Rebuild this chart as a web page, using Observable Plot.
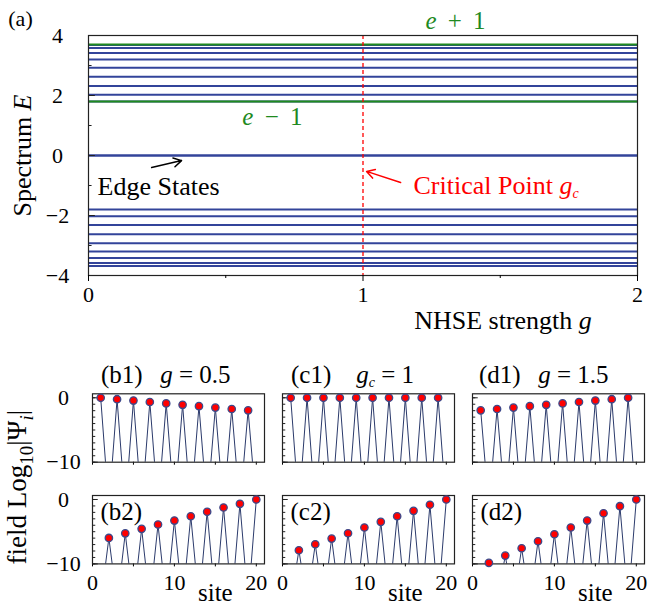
<!DOCTYPE html>
<html><head><meta charset="utf-8">
<script src="https://cdn.jsdelivr.net/npm/d3@7"></script>
<script src="https://cdn.jsdelivr.net/npm/@observablehq/plot@0.6"></script>
<style>
body{margin:0;background:#fff;}
#root{position:relative;width:652px;height:608px;overflow:hidden;font-family:"Liberation Serif",serif;}
#root svg{position:absolute;overflow:visible;background:transparent;}
#root svg, #root svg text, #root svg tspan{font-family:"Liberation Serif",serif !important;}
.lab{position:absolute;white-space:nowrap;font-family:"Liberation Serif",serif;color:#000;line-height:1;}
</style></head><body><div id="root"></div>
<script>
const FONT = "Liberation Serif";
const BLUE = "#33449a";
const GREEN = "#1f8a1f";

// ---- panel (a): spectrum E vs NHSE strength g ----
const bulkUpper = [3.684, 3.583, 3.419, 3.198, 2.929, 2.628, 2.314, 2.022, 1.800];
const bulkLower = [-1.800, -2.022, -2.314, -2.628, -2.929, -3.198, -3.419, -3.583, -3.684];
const edgeLevels = [0, 0];
const bandEdgeLevels = [3.70, 1.80];
const criticalG = [1];
const gTicks = [0, 1, 2];
const gMinorTicks = [0.5, 1.5];
const eTicks = [-4, -2, 0, 2, 4];
const eMinorTicks = [-3, -1, 1, 3];

// ---- panels (b)-(d): field Log10|Psi_i| vs site ----
const sites = [1,2,3,4,5,6,7,8,9,10,11,12,13,14,15,16,17,18,19,20];
const b1 = [0,-17,-0.22,-17,-0.43,-17,-0.65,-17,-0.87,-17,-1.09,-17,-1.30,-17,-1.52,-17,-1.74,-17,-1.95,-17];
const c1 = [0,-17,0,-17,0,-17,0,-17,0,-17,0,-17,0,-17,0,-17,0,-17,0,-17];
const d1 = [-1.95,-17,-1.74,-17,-1.52,-17,-1.30,-17,-1.09,-17,-0.87,-17,-0.65,-17,-0.43,-17,-0.22,-17,0,-17];
const b2 = [-16,-5.97,-16,-5.26,-16,-4.56,-16,-3.89,-16,-3.27,-16,-2.60,-16,-1.91,-16,-1.24,-16,-0.67,-16,0];
const c2 = [-16,-7.88,-16,-6.95,-16,-6.07,-16,-5.24,-16,-4.35,-16,-3.47,-16,-2.60,-16,-1.76,-16,-0.82,-16,0];
const d2 = [-16,-9.84,-16,-8.71,-16,-7.57,-16,-6.48,-16,-5.40,-16,-4.35,-16,-3.27,-16,-2.14,-16,-1.04,-16,0];
const siteTicks = [0, 5, 10, 15, 20];
const siteLabels = [0, 10, 20];
const fieldTicks = [-10, 0];
const fieldMinorTicks = [-10,-9,-8,-7,-6,-5,-4,-3,-2,-1,0];

const panelTitles = [
  ["(b1)\u2002\u2009*g* = 0.5", "(c1)\u2002\u2002*g*_{*c*} = 1", "(d1)\u2002\u2009*g* = 1.5"],
  ["(b2)", "(c2)", "(d2)"]
];
const panelData = [[b1, c1, d1], [b2, c2, d2]];

// rich text: *italic*, _{subscript}
function segs(s){
  const out=[]; let it=false, sub=false, buf="";
  const push=()=>{ if(buf) out.push({t:buf,it,sub}); buf=""; };
  for(let i=0;i<s.length;i++){
    const c=s[i];
    if(c==='*'){push(); it=!it; continue;}
    if(c==='_' && s[i+1]==='{'){push(); sub=true; i++; continue;}
    if(c==='}' && sub){push(); sub=false; continue;}
    buf+=c;
  }
  push(); return out;
}
function rich(svg){
  d3.select(svg).selectAll("text").each(function(){
    const t=this.textContent;
    if(!/[*]|_\{/.test(t)) return;
    const fs=parseFloat(getComputedStyle(this).fontSize)||20;
    const sel=d3.select(this); sel.text("");
    let wasSub=false;
    for(const s of segs(t)){
      const ts=sel.append("tspan").text(s.t);
      if(s.it) ts.attr("font-style","italic");
      if(s.sub){ ts.attr("font-size",fs*0.7).attr("dy",fs*0.22); wasSub=true; }
      else if(wasSub){ ts.attr("dy",-fs*0.22); wasSub=false; }
    }
  });
  return svg;
}

const root = document.getElementById("root");
function place(svg, left, top){ svg.style.left=left+"px"; svg.style.top=top+"px"; root.appendChild(rich(svg)); }

// ---- top plot ----
const topPlot = Plot.plot({
  width: 652, height: 340,
  marginLeft: 88, marginRight: 15, marginTop: 35, marginBottom: 65,
  x: {domain: [0, 2], axis: null}, y: {domain: [-4, 4], axis: null},
  style: {fontFamily: FONT, fontSize: "22px", overflow: "visible", background: "transparent"},
  marks: [
    Plot.ruleY(bulkUpper.concat(bulkLower, edgeLevels), {stroke: BLUE, strokeWidth: 2}),
    Plot.ruleY(bandEdgeLevels, {stroke: GREEN, strokeWidth: 2.2}),
    Plot.ruleX(criticalG, {stroke: "red", strokeWidth: 1.3, strokeDasharray: "4,3"}),
    Plot.frame({stroke: "#222", strokeWidth: 1.2}),
    Plot.ruleY(eTicks, {x1: 0, x2: 0.025, stroke: "#222"}),
    Plot.ruleY(eMinorTicks, {x1: 0, x2: 0.013, stroke: "#222"}),
    Plot.axisX({ticks: gTicks, tickSize: 6, tickPadding: 5, label: null, fontSize: 22, tickFormat: d3.format("d")}),
    Plot.axisX({ticks: gMinorTicks, tickSize: 3, tickFormat: () => "", label: null}),
    Plot.axisY({ticks: eTicks, tickSize: 0, tickPadding: 31, textAnchor: "middle", label: null, fontSize: 22}),
    Plot.text([0], {frameAnchor: "top-left", dx: -68, dy: -17, text: () => "(a)", fontSize: 22, textAnchor: "middle", lineAnchor: "middle"}),
    Plot.text([0], {x: 1.337, y: 4.5, text: () => "*e*\u2009 + \u20091", fill: GREEN, fontSize: 25}),
    Plot.text([0], {x: 0.67, y: 1.3, text: () => "*e*\u2009 − \u20091", fill: GREEN, fontSize: 25}),
    Plot.text([0], {x: 0.033, y: -1.03, text: () => "Edge States", fontSize: 26, textAnchor: "start"}),
    Plot.arrow([0], {x1: 0.23, y1: -0.4, x2: 0.339, y2: -0.17, stroke: "black", strokeWidth: 1.5, headLength: 9}),
    Plot.text([0], {x: 1.184, y: -1.0, text: () => "Critical Point *g*_{*c*}", fill: "red", fontSize: 26, textAnchor: "start"}),
    Plot.arrow([0], {x1: 1.137, y1: -0.9, x2: 1.013, y2: -0.53, stroke: "red", strokeWidth: 1.5, headLength: 9}),
    Plot.text([0], {frameAnchor: "left", dx: -66, rotate: -90, text: () => "Spectrum *E*", fontSize: 26, textAnchor: "middle", lineAnchor: "middle"}),
    Plot.text([0], {x: 1.51, y: -5.5, text: () => "NHSE strength *g*", fontSize: 26})
  ]
});
place(topPlot, 0, 0);

// ---- small panels ----
const colLeft = [0, 268, 458];
const colWidth = [268, 190, 190];
const colMarginLeft = [92, 14, 14];
for (let r = 0; r < 2; r++) {
  for (let c = 0; c < 3; c++) {
    const vals = panelData[r][c];
    const data = sites.map((s, i) => ({site: s, v: vals[i]}));
    const peaks = data.filter(d => d.v > -10.5);
    const mt = r === 0 ? 43.3 : 15;
    const mb = r === 0 ? 8.3 : 44.7;
    const marks = [
      Plot.line(data, {x: "site", y: "v", stroke: "#2b3a6b", strokeWidth: 1, clip: true}),
      Plot.ruleY(fieldMinorTicks, {x1: 0, x2: 0.4, stroke: "#222"}),
      Plot.ruleY(fieldTicks, {x1: 0, x2: 0.7, stroke: "#222"}),
      Plot.axisX({ticks: siteTicks, tickSize: 3, tickFormat: () => "", label: null}),
      Plot.frame({stroke: "#222", strokeWidth: 1.2}),
      Plot.dot(peaks, {x: "site", y: "v", r: 3.7, fill: "red", stroke: "#3b4a8c", strokeWidth: 1.3})
    ];
    if (c === 0) marks.push(Plot.axisY({ticks: fieldTicks, tickSize: 0, tickPadding: 29, textAnchor: "middle", label: null, fontSize: 22}));
    if (r === 1) {
      marks.push(Plot.axisX({ticks: siteLabels, tickSize: 0, tickPadding: 10, label: null, fontSize: 22}));
      marks.push(Plot.text([0], {x: 15, frameAnchor: "bottom", dy: 29, text: () => "site", fontSize: 25, lineAnchor: "middle"}));
      marks.push(Plot.text([0], {frameAnchor: "top-left", dx: 8, dy: 17, text: () => panelTitles[r][c], fontSize: 25, textAnchor: "start", lineAnchor: "middle"}));
    } else {
      marks.push(Plot.text([0], {frameAnchor: "top-left", dx: c === 2 ? 6.5 : 8.5, dy: -19, text: () => panelTitles[r][c], fontSize: 25, textAnchor: "start", lineAnchor: "middle"}));
    }
    const svg = Plot.plot({
      width: colWidth[c], height: mt + 68.4 + mb,
      marginLeft: colMarginLeft[c], marginRight: 4, marginTop: mt, marginBottom: mb,
      x: {domain: [0, 21], axis: null}, y: {domain: [-10, 0.62], axis: null},
      style: {fontFamily: FONT, fontSize: "22px", overflow: "visible", background: "transparent"},
      marks
    });
    place(svg, colLeft[c], r === 0 ? 350 : 480);
  }
}

// shared y label
const yl = document.createElement("div");
yl.className = "lab";
yl.style.fontSize = "27px";
yl.innerHTML = "field Log<sub style='font-size:0.7em'>10</sub>|Ψ<sub style='font-size:0.7em'><i>i</i></sub>|";
root.appendChild(yl);
const w = yl.offsetWidth, h = yl.offsetHeight;
yl.style.left = (20 - w / 2) + "px";
yl.style.top = (487 - h / 2) + "px";
yl.style.transform = "rotate(-90deg)";
</script></body></html>
